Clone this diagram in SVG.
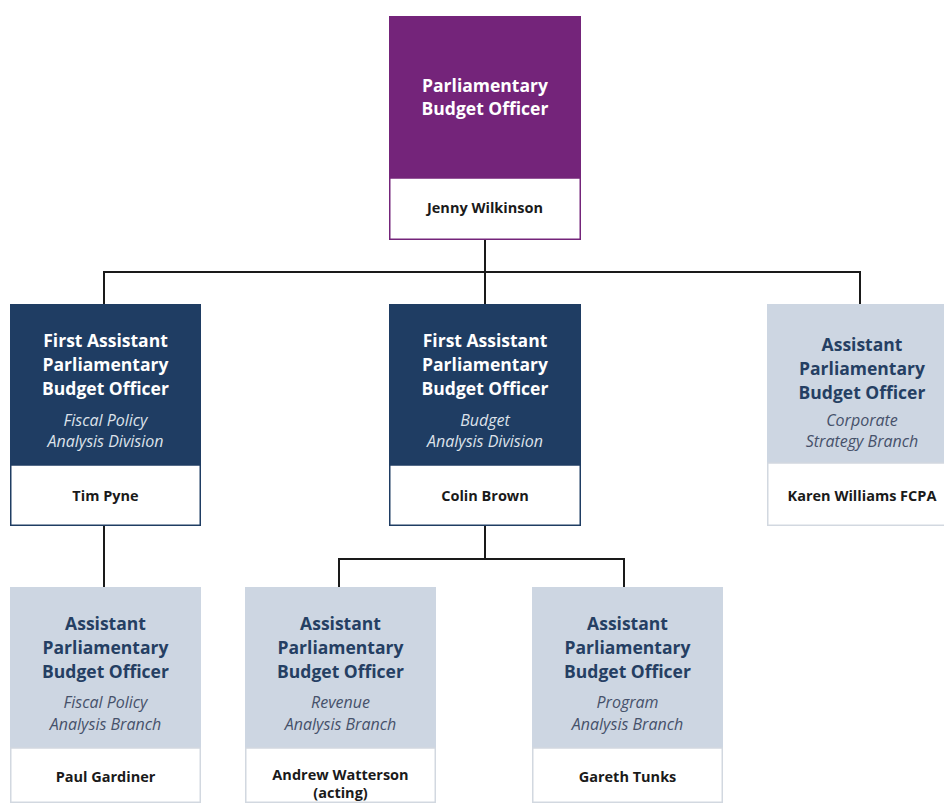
<svg xmlns="http://www.w3.org/2000/svg" width="944" height="805" viewBox="0 0 944 805">
<style>
.t{font-family:"Open Sans","Noto Sans",sans-serif;font-weight:700;font-size:17.5px;text-anchor:middle}
.i{font-family:"Open Sans","Noto Sans",sans-serif;font-style:italic;font-size:16px;text-anchor:middle}
.n{font-family:"Open Sans","Noto Sans",sans-serif;font-weight:700;font-size:14.5px;text-anchor:middle;fill:#1a1a1a}
.w{fill:#ffffff}
.tl{fill:#253f63}
.il{fill:#46516a}
.id{fill:#dde2ea}
.dark{fill:#1f3d63}
.light{fill:#cdd6e2}
.wd{fill:#ffffff;stroke:#1f3d63;stroke-width:1.5}
.wl{fill:#ffffff;stroke:#d2d8e0;stroke-width:1.5}
.con{fill:none;stroke:#1a1a1a;stroke-width:2}
</style>
<rect width="944" height="805" fill="#ffffff"/>
<g id="connectors">
<path class="con" d="M485 240V304M104 304V272H860V304"/>
<path class="con" d="M104 526V587"/>
<path class="con" d="M485 526V559M339 587V559H624V587"/>
</g>
<g id="pbo">
<rect x="389" y="16" width="192" height="162" fill="#74247a"/>
<rect x="389.75" y="178" width="190.5" height="61.25" fill="#ffffff" stroke="#74247a" stroke-width="1.5"/>
<text class="t w" x="485" y="92">Parliamentary</text>
<text class="t w" x="485" y="115">Budget Officer</text>
<text class="n" x="485" y="213">Jenny Wilkinson</text>
</g>
<g id="fapbo-fiscal">
<rect class="dark" x="10" y="304" width="191" height="161"/>
<rect class="wd" x="10.75" y="465" width="189.5" height="60.25"/>
<text class="t w" x="105.5" y="347">First Assistant</text>
<text class="t w" x="105.5" y="371">Parliamentary</text>
<text class="t w" x="105.5" y="395">Budget Officer</text>
<text class="i id" x="105.5" y="426">Fiscal Policy</text>
<text class="i id" x="105.5" y="447">Analysis Division</text>
<text class="n" x="105.5" y="501">Tim Pyne</text>
</g>
<g id="fapbo-budget">
<rect class="dark" x="389" y="304" width="192" height="161"/>
<rect class="wd" x="389.75" y="465" width="190.5" height="60.25"/>
<text class="t w" x="485" y="347">First Assistant</text>
<text class="t w" x="485" y="371">Parliamentary</text>
<text class="t w" x="485" y="395">Budget Officer</text>
<text class="i id" x="485" y="426">Budget</text>
<text class="i id" x="485" y="447">Analysis Division</text>
<text class="n" x="485" y="501">Colin Brown</text>
</g>
<g id="apbo-corporate">
<rect class="light" x="767" y="304" width="192" height="159"/>
<rect class="wl" x="767.75" y="463" width="190.5" height="62.25"/>
<text class="t tl" x="862" y="351">Assistant</text>
<text class="t tl" x="862" y="375">Parliamentary</text>
<text class="t tl" x="862" y="399">Budget Officer</text>
<text class="i il" x="862" y="426">Corporate</text>
<text class="i il" x="862" y="447">Strategy Branch</text>
<text class="n" x="862" y="501">Karen Williams FCPA</text>
</g>
<g id="apbo-fiscal">
<rect class="light" x="10" y="587" width="191" height="161"/>
<rect class="wl" x="10.75" y="748" width="189.5" height="54.25"/>
<text class="t tl" x="105.5" y="630">Assistant</text>
<text class="t tl" x="105.5" y="654">Parliamentary</text>
<text class="t tl" x="105.5" y="678">Budget Officer</text>
<text class="i il" x="105.5" y="708">Fiscal Policy</text>
<text class="i il" x="105.5" y="730">Analysis Branch</text>
<text class="n" x="105.5" y="782">Paul Gardiner</text>
</g>
<g id="apbo-revenue">
<rect class="light" x="245" y="587" width="191" height="161"/>
<rect class="wl" x="245.75" y="748" width="189.5" height="54.25"/>
<text class="t tl" x="340.5" y="630">Assistant</text>
<text class="t tl" x="340.5" y="654">Parliamentary</text>
<text class="t tl" x="340.5" y="678">Budget Officer</text>
<text class="i il" x="340.5" y="708">Revenue</text>
<text class="i il" x="340.5" y="730">Analysis Branch</text>
<text class="n" x="340.5" y="780">Andrew Watterson</text>
<text class="n" x="340.5" y="798">(acting)</text>
</g>
<g id="apbo-program">
<rect class="light" x="532" y="587" width="191" height="161"/>
<rect class="wl" x="532.75" y="748" width="189.5" height="54.25"/>
<text class="t tl" x="627.5" y="630">Assistant</text>
<text class="t tl" x="627.5" y="654">Parliamentary</text>
<text class="t tl" x="627.5" y="678">Budget Officer</text>
<text class="i il" x="627.5" y="708">Program</text>
<text class="i il" x="627.5" y="730">Analysis Branch</text>
<text class="n" x="627.5" y="782">Gareth Tunks</text>
</g>
</svg>
